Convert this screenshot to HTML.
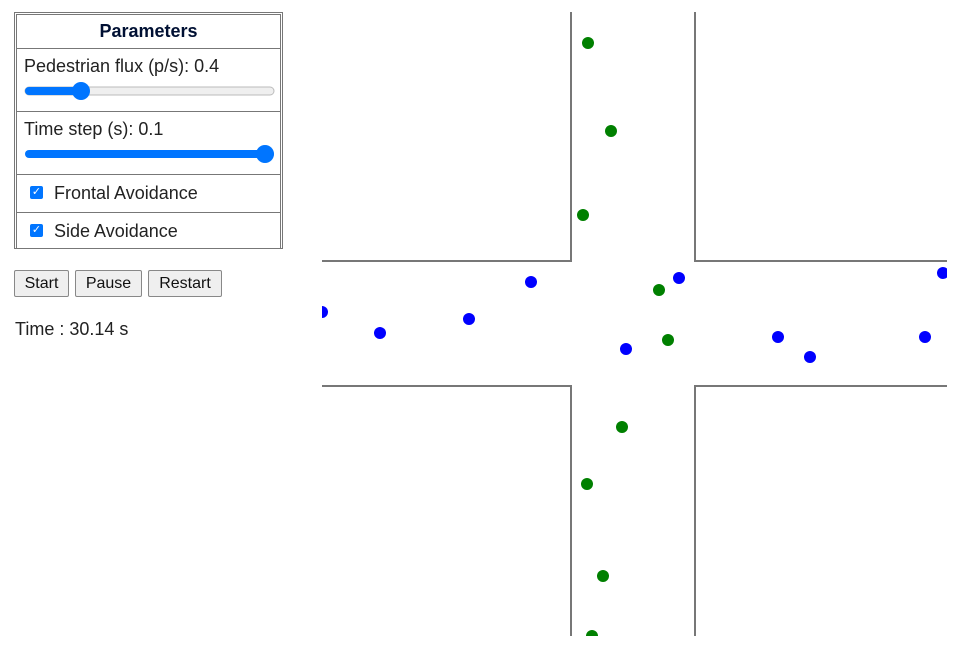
<!DOCTYPE html>
<html><head><meta charset="utf-8"><style>
body{margin:0;width:971px;height:671px;background:#fff;font-family:"Liberation Sans",sans-serif;position:relative;overflow:hidden;color:#222}
.abs{position:absolute}
.tbl{left:14px;top:12px;width:267px;height:235px;border:1px solid #777;}
.row{position:absolute;left:1px;width:265px;border:1px solid #777;box-sizing:border-box}
.btn{position:absolute;top:270px;height:27px;border:1px solid #888;border-radius:2px;background:#efefef;font-size:16px;line-height:25px;text-align:center;box-sizing:border-box;color:#111}
.cb{position:absolute;left:13px;width:13px;height:13px;background:#0075ff;border-radius:2px;color:#fff;font-size:11px;line-height:13px;text-align:center}
</style></head><body>
<div class="abs tbl">
 <div class="row" style="top:1px;height:35px;font-weight:bold;font-size:18px;text-align:center;line-height:33px;color:#001033">Parameters</div>
 <div class="row" style="top:35px;height:64px">
  <div class="abs" style="left:7px;top:7px;font-size:18px">Pedestrian flux (p/s): 0.4</div>
  <svg class="abs" style="left:0;top:30px" width="265" height="30">
   <rect x="8" y="8" width="249" height="8" rx="4" fill="#efefef" stroke="#bbb"/>
   <rect x="8" y="8" width="58" height="8" rx="4" fill="#0075ff"/>
   <circle cx="64" cy="12" r="9" fill="#0075ff"/></svg>
 </div>
 <div class="row" style="top:98px;height:64px">
  <div class="abs" style="left:7px;top:7px;font-size:18px">Time step (s): 0.1</div>
  <svg class="abs" style="left:0;top:30px" width="265" height="30">
   <rect x="8" y="8" width="249" height="8" rx="4" fill="#0075ff"/>
   <circle cx="248" cy="12" r="9" fill="#0075ff"/></svg>
 </div>
 <div class="row" style="top:161px;height:39px">
  <div class="cb" style="top:11px">✓</div>
  <div class="abs" style="left:37px;top:8px;font-size:18px">Frontal Avoidance</div>
 </div>
 <div class="row" style="top:199px;height:37px">
  <div class="cb" style="top:11px">✓</div>
  <div class="abs" style="left:37px;top:8px;font-size:18px">Side Avoidance</div>
 </div>
</div>
<div class="btn" style="left:14px;width:55px">Start</div>
<div class="btn" style="left:75px;width:67px">Pause</div>
<div class="btn" style="left:148px;width:74px">Restart</div>
<div class="abs" style="left:15px;top:319px;font-size:18px">Time : 30.14 s</div>
<svg class="abs" style="left:322px;top:12px" width="625" height="624" id="sim">
 <g stroke="#777" stroke-width="2" fill="none">
  <polyline points="0,249 249,249 249,0"/>
  <polyline points="373,0 373,249 625,249"/>
  <polyline points="0,374 249,374 249,624"/>
  <polyline points="373,624 373,374 625,374"/>
 </g>
</svg>
<script>
const greenX=[588,611,583,659,668,622,587,603,592];
const greenY=[43,131,215,290,340,427,484,576,636];
const blueX=[322,380,469,531,679,626,778,810,925,943];
const blueY=[312,333,319,282,278,349,337,357,337,273];
const svg=document.getElementById('sim');
const NS='http://www.w3.org/2000/svg';
function sx(v){return v-322;} function sy(v){return v-12;}
function draw(xs,ys,col,name){
 for(let i=0;i<xs.length;i++){
  const c=document.createElementNS(NS,'circle');
  c.setAttribute('cx',sx(xs[i]));c.setAttribute('cy',sy(ys[i]));c.setAttribute('r',6);c.setAttribute('fill',col);
  
  
  svg.appendChild(c);
 }
}
draw(greenX,greenY,'#008000','pedestrian-green');
draw(blueX,blueY,'#0000ff','pedestrian-blue');
</script>
</body></html>
